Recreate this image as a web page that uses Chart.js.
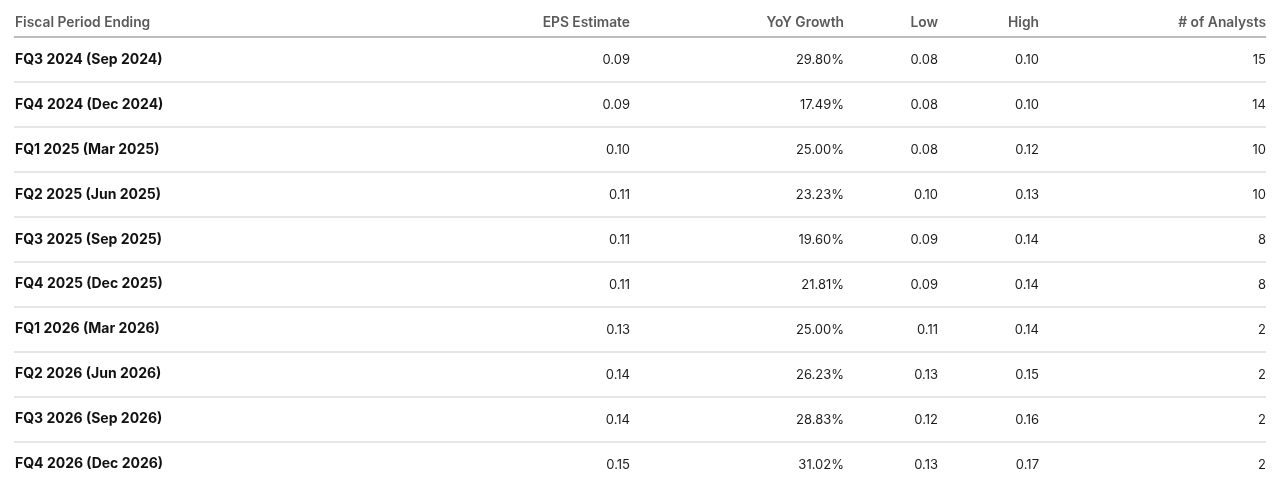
<!DOCTYPE html>
<html>
<head>
<meta charset="utf-8">
<script src="https://cdn.jsdelivr.net/npm/chart.js@4.4.1/dist/chart.umd.min.js"></script>
<style>
  html, body { margin: 0; padding: 0; background: #ffffff; }
  #wrap { width: 1280px; height: 496px; }
</style>
</head>
<body>
<div id="wrap"><canvas id="c" width="1280" height="496"></canvas></div>
<script>
// ---- data ----
const periods = [
  'FQ3 2024 (Sep 2024)', 'FQ4 2024 (Dec 2024)', 'FQ1 2025 (Mar 2025)', 'FQ2 2025 (Jun 2025)',
  'FQ3 2025 (Sep 2025)', 'FQ4 2025 (Dec 2025)', 'FQ1 2026 (Mar 2026)', 'FQ2 2026 (Jun 2026)',
  'FQ3 2026 (Sep 2026)', 'FQ4 2026 (Dec 2026)'
];
const epsEstimate = [0.09, 0.09, 0.10, 0.11, 0.11, 0.11, 0.13, 0.14, 0.14, 0.15];
const yoyGrowth   = [29.80, 17.49, 25.00, 23.23, 19.60, 21.81, 25.00, 26.23, 28.83, 31.02];
const lowEst      = [0.08, 0.08, 0.08, 0.10, 0.09, 0.09, 0.11, 0.13, 0.12, 0.13];
const highEst     = [0.10, 0.10, 0.12, 0.13, 0.14, 0.14, 0.14, 0.15, 0.16, 0.17];
const analysts    = [15, 14, 10, 10, 8, 8, 2, 2, 2, 2];
const headers = ['Fiscal Period Ending', 'EPS Estimate', 'YoY Growth', 'Low', 'High', '# of Analysts'];

// ---- layout (column right edges in the x scale's units) ----
const X_MIN = 14, X_MAX = 1266;
const colAnchor = [630, 844, 938, 1039, 1266];
const FONT = 'Inter, "Liberation Sans", Arial, sans-serif';

const columns = [
  { values: epsEstimate, fmt: v => v.toFixed(2) },
  { values: yoyGrowth,   fmt: v => v.toFixed(2) + '%' },
  { values: lowEst,      fmt: v => v.toFixed(2) },
  { values: highEst,     fmt: v => v.toFixed(2) },
  { values: analysts,    fmt: v => String(v) }
];

const datasets = columns.map((col, ci) => ({
  label: headers[ci + 1],
  data: col.values.map((v, i) => ({ x: colAnchor[ci], y: periods[i], v: v })),
  pointRadius: 0,
  pointHoverRadius: 0,
  showLine: false,
  fmt: col.fmt
}));

const tablePlugin = {
  id: 'tableText',
  afterDatasetsDraw(chart) {
    const ctx = chart.ctx;
    const xs = chart.scales.x;
    const area = chart.chartArea;
    ctx.save();
    // header
    ctx.font = '600 13.8px ' + FONT;
    ctx.fillStyle = '#5a5a5a';
    ctx.textBaseline = 'middle';
    const hy = area.top - 14.5;
    ctx.textAlign = 'left';
    ctx.fillText(headers[0], area.left + 1, hy);
    ctx.textAlign = 'right';
    colAnchor.forEach((a, i) => ctx.fillText(headers[i + 1], xs.getPixelForValue(a), hy));
    // cells
    ctx.font = '400 13px ' + FONT;
    ctx.fillStyle = '#1c1c1c';
    chart.data.datasets.forEach((ds, di) => {
      const meta = chart.getDatasetMeta(di);
      meta.data.forEach((el, i) => {
        ctx.fillText(ds.fmt(ds.data[i].v), el.x, el.y + 0.5);
      });
    });
    ctx.restore();
  }
};

new Chart(document.getElementById('c'), {
  type: 'scatter',
  data: { labels: periods, datasets: datasets },
  options: {
    responsive: false,
    animation: false,
    devicePixelRatio: 1,
    layout: { padding: { left: 14, right: 14, top: 37, bottom: 9 } },
    plugins: { legend: { display: false }, tooltip: { enabled: false } },
    events: [],
    scales: {
      x: { type: 'linear', min: X_MIN, max: X_MAX, display: false },
      y: {
        type: 'category',
        labels: periods,
        offset: true,
        afterFit: s => { s.width = 0; },
        border: { display: false },
        grid: {
          offset: true,
          drawTicks: false,
          color: c => c.type !== 'tick' ? 'rgba(0,0,0,0)' : (c.index === 0 ? '#bdbdbd' : '#e6e6e6'),
          lineWidth: c => c.type !== 'tick' ? 0 : 2
        },
        ticks: {
          mirror: true,
          padding: 1,
          autoSkip: false,
          color: '#111111',
          font: { family: FONT, size: 14, weight: '700' }
        }
      }
    }
  },
  plugins: [tablePlugin]
});
</script>
</body>
</html>
